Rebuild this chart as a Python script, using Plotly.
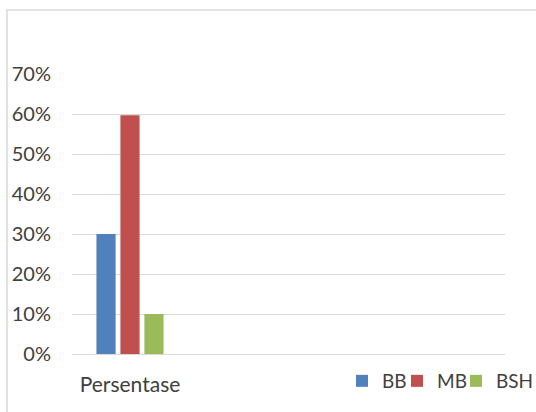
import plotly.graph_objects as go

# Data
categories = ["Persentase"]
series_names = ["BB", "MB", "BSH"]
series_values = [[0.30], [0.597], [0.10]]
series_colors = ["#4F81BD", "#C0504D", "#9BBB59"]
y_ticks = [0, 0.1, 0.2, 0.3, 0.4, 0.5, 0.6, 0.7]
y_tick_labels = ["0%", "10%", "20%", "30%", "40%", "50%", "60%", "70%"]

W, H = 536, 412
ML, MR, MT, MB = 72, 31, 74, 58
PW, PH = W - ML - MR, H - MT - MB

FONT = "Lato"
TXT = "#404040"
GRID = "#d9d9d9"

# one legend box per series, laid out left to right along the bottom
legend_ids = ["legend", "legend2", "legend3"]
legend_left_px = [350, 405, 464]

fig = go.Figure()
for name, vals, col, lg in zip(series_names, series_values, series_colors, legend_ids):
    fig.add_trace(go.Bar(x=categories, y=vals, name=name, marker_color=col,
                         marker_line_width=0, legend=lg))

def px_x(px):
    return (px - ML) / PW

def px_y(py):
    return (H - MB - py) / PH

# chart-area frame (right and bottom edges fall outside the page)
fig.add_shape(type="rect", xref="paper", yref="paper",
              x0=px_x(7), x1=px_x(545), y0=px_y(10), y1=px_y(425),
              line=dict(color=GRID, width=1.5), fillcolor="rgba(0,0,0,0)",
              layer="below")

legend_style = dict(orientation="h", xanchor="left", y=px_y(381), yanchor="middle",
                    font=dict(family=FONT, size=19, color=TXT),
                    itemwidth=30, indentation=-8, bgcolor="rgba(0,0,0,0)")
for lg, lx in zip(legend_ids, legend_left_px):
    fig.update_layout({lg: dict(legend_style, x=px_x(lx))})

fig.update_layout(
    width=W, height=H,
    margin=dict(l=ML, r=MR, t=MT, b=MB, autoexpand=False),
    paper_bgcolor="white", plot_bgcolor="white",
    barmode="group", bargap=0.38, bargroupgap=0.2,
    font=dict(family=FONT, size=21, color=TXT),
    showlegend=True,
    xaxis=dict(type="category", range=[-0.5, 3.233], showgrid=False,
               showline=False, ticks="", ticklabelstandoff=16,
               tickfont=dict(family=FONT, size=21, color=TXT),
               fixedrange=True),
    yaxis=dict(range=[0, 0.7], tickvals=y_ticks, ticktext=y_tick_labels,
               showgrid=True, gridcolor=GRID, gridwidth=1.3,
               zeroline=True, zerolinecolor=GRID, zerolinewidth=1.3,
               showline=False, ticks="", ticklabelstandoff=20,
               tickfont=dict(family=FONT, size=20, color=TXT),
               fixedrange=True),
)

fig.write_html("out.html")
